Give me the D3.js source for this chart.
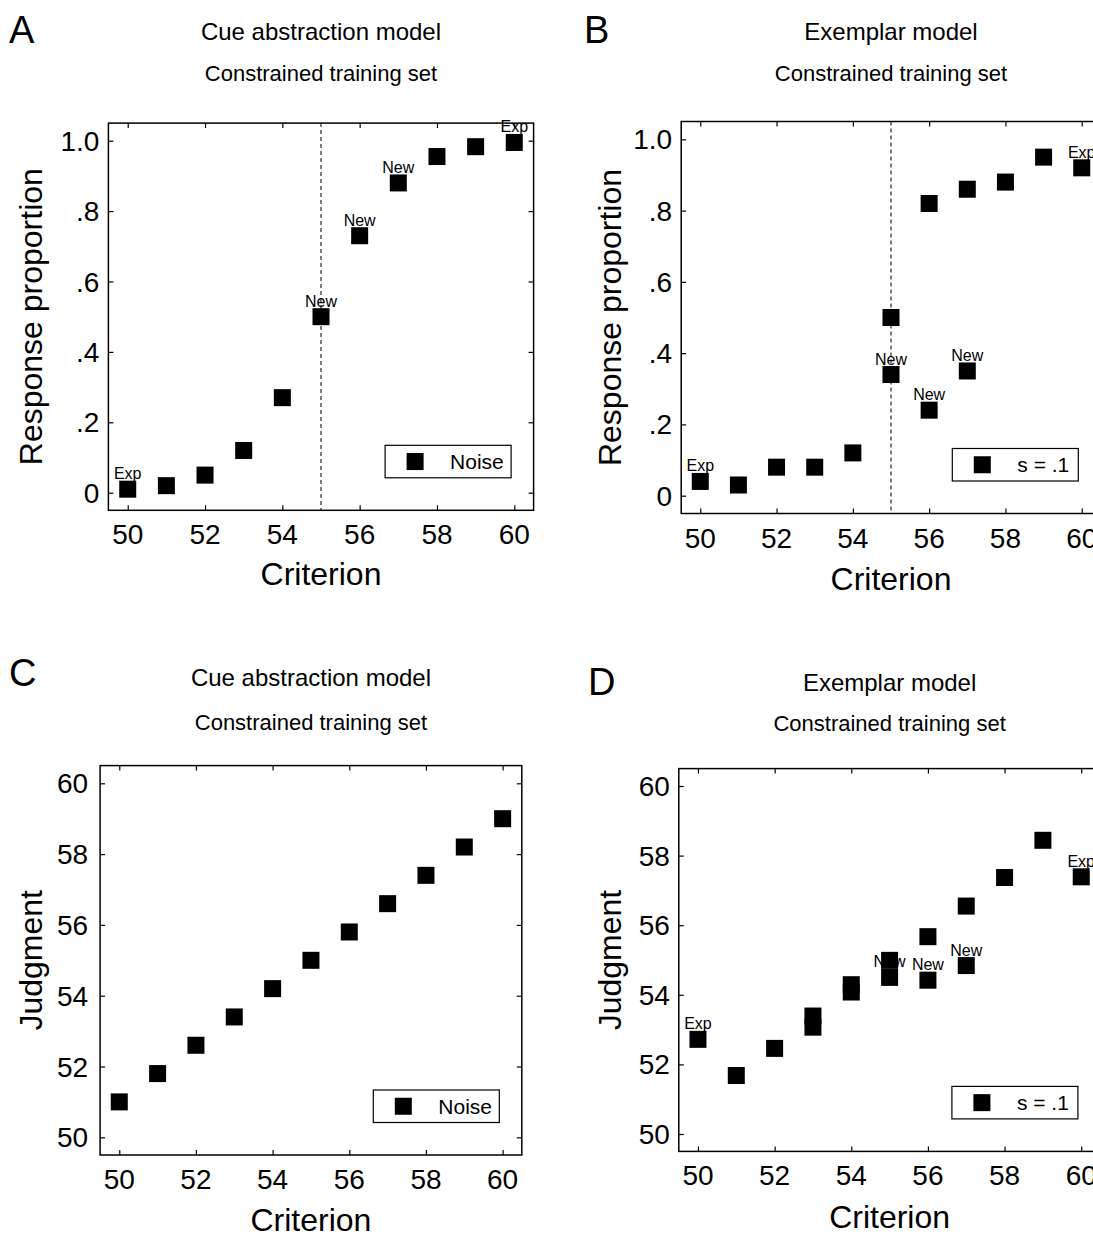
<!DOCTYPE html>
<html><head><meta charset="utf-8">
<script src="https://cdn.jsdelivr.net/npm/d3@7"></script>
<style>
body{margin:0;background:#fff}
svg{display:block;background:#fff}
text{font-family:"Liberation Sans",Arial,Helvetica,sans-serif;fill:#000}
</style>
</head><body>
<svg id="chart" width="1093" height="1234"></svg>
<script>
// ---------- data ----------
const xTicks = [50, 52, 54, 56, 58, 60];
const propTicks = [0, 0.2, 0.4, 0.6, 0.8, 1.0];
const propTickLabels = ["0", ".2", ".4", ".6", ".8", "1.0"];
const judgTicks = [50, 52, 54, 56, 58, 60];

// Panel A: cue abstraction model, response proportion
const cuePropX = [50, 51, 52, 53, 54, 55, 56, 57, 58, 59, 60];
const cuePropY = [0.01, 0.02, 0.05, 0.12, 0.27, 0.50, 0.73, 0.88, 0.955, 0.983, 0.995];
const cuePropLabels = ["Exp", "", "", "", "", "New", "New", "New", "", "", "Exp"];

// Panel B: exemplar model, response proportion
const exPropX = [50, 51, 52, 53, 54, 55, 55, 56, 56, 57, 57, 58, 59, 60];
const exPropY = [0.04, 0.03, 0.08, 0.08, 0.12, 0.50, 0.34, 0.82, 0.24, 0.86, 0.35, 0.88, 0.95, 0.92];
const exPropLabels = ["Exp", "", "", "", "", "", "New", "", "New", "", "New", "", "", "Exp"];

// Panel C: cue abstraction model, judgment
const cueJudgX = [50, 51, 52, 53, 54, 55, 56, 57, 58, 59, 60];
const cueJudgY = [51.0, 51.8, 52.6, 53.4, 54.2, 55.0, 55.8, 56.6, 57.4, 58.2, 59.0];
const cueJudgLabels = ["", "", "", "", "", "", "", "", "", "", ""];

// Panel D: exemplar model, judgment
const exJudgX = [50, 51, 52, 53, 53, 54, 54, 55, 55, 56, 56, 57, 57, 58, 59, 60];
const exJudgY = [52.72, 51.68, 52.46, 53.39, 53.07, 54.29, 54.08, 54.99, 54.50, 55.67, 54.42, 56.55, 54.84, 57.37, 58.44, 57.39];
const exJudgLabels = ["Exp", "", "", "", "", "", "", "", "New", "", "New", "", "New", "", "", "Exp"];

// ---------- layout ----------
const panels = [
  {letter:"A", title:"Cue abstraction model", sub:"Constrained training set",
   xs:cuePropX, ys:cuePropY, labels:cuePropLabels, yDomain:[-0.05,1.05], yTicks:propTicks, yTickLabels:propTickLabels,
   yTitle:"Response proportion", legend:"Noise", dashed:55,
   left:108.4, right:533.6, top:123.1, bottom:510.3,
   letterX:9, letterY:43, titleY:40, subY:81, yTitleX:42, xTickDy:34, xTitleDy:75, yTickPad:9},
  {letter:"B", title:"Exemplar model", sub:"Constrained training set",
   xs:exPropX, ys:exPropY, labels:exPropLabels, yDomain:[-0.05,1.05], yTicks:propTicks, yTickLabels:propTickLabels,
   yTitle:"Response proportion", legend:"s = .1", dashed:55,
   left:681.2, right:1100.8, top:121.5, bottom:513.5,
   letterX:584, letterY:43, titleY:40, subY:81, yTitleX:621, xTickDy:34, xTitleDy:76, yTickPad:9},
  {letter:"C", title:"Cue abstraction model", sub:"Constrained training set",
   xs:cueJudgX, ys:cueJudgY, labels:cueJudgLabels, yDomain:[49.5,60.5], yTicks:judgTicks, yTickLabels:judgTicks.map(String),
   yTitle:"Judgment", legend:"Noise", dashed:null,
   left:100.1, right:521.8, top:765.6, bottom:1155,
   letterX:9, letterY:686, titleY:686, subY:730, yTitleX:42, xTickDy:34, xTitleDy:76, yTickPad:12},
  {letter:"D", title:"Exemplar model", sub:"Constrained training set",
   xs:exJudgX, ys:exJudgY, labels:exJudgLabels, yDomain:[49.5,60.5], yTicks:judgTicks, yTickLabels:judgTicks.map(String),
   yTitle:"Judgment", legend:"s = .1", dashed:null,
   left:678.8, right:1100.4, top:768.6, bottom:1151.4,
   letterX:588, letterY:695, titleY:691, subY:731, yTitleX:621, xTickDy:34, xTitleDy:77, yTickPad:9}
];

const svg = d3.select("#chart");
const M = 17; // marker size

panels.forEach(p => {
  const x = d3.scaleLinear().domain([49.5, 60.5]).range([p.left, p.right]);
  const y = d3.scaleLinear().domain(p.yDomain).range([p.bottom, p.top]);
  const g = svg.append("g");
  const cx = (p.left + p.right) / 2;
  const cy = (p.top + p.bottom) / 2;

  // letter, titles
  g.append("text").attr("x", p.letterX).attr("y", p.letterY).attr("font-size", 38).text(p.letter);
  g.append("text").attr("x", cx).attr("y", p.titleY).attr("text-anchor", "middle").attr("font-size", 24).text(p.title);
  g.append("text").attr("x", cx).attr("y", p.subY).attr("text-anchor", "middle").attr("font-size", 22).text(p.sub);

  // axes with inward ticks on all sides
  const axB = d3.axisBottom(x).tickValues(xTicks).tickSize(-5).tickFormat("");
  const axT = d3.axisTop(x).tickValues(xTicks).tickSize(-5).tickFormat("");
  const axL = d3.axisLeft(y).tickValues(p.yTicks).tickSize(-5).tickFormat("");
  const axR = d3.axisRight(y).tickValues(p.yTicks).tickSize(-5).tickFormat("");
  [[axB, `translate(0,${p.bottom})`], [axT, `translate(0,${p.top})`],
   [axL, `translate(${p.left},0)`], [axR, `translate(${p.right},0)`]].forEach(([ax, tr]) => {
    const a = g.append("g").attr("transform", tr).call(ax);
    a.select(".domain").remove();
    a.selectAll("line").attr("stroke", "#000").attr("stroke-width", 1.2);
  });

  // tick labels
  g.selectAll(null).data(xTicks).enter().append("text")
    .attr("x", d => x(d)).attr("y", p.bottom + p.xTickDy)
    .attr("text-anchor", "middle").attr("font-size", 28).text(d => d);
  g.selectAll(null).data(p.yTicks).enter().append("text")
    .attr("x", p.left - p.yTickPad).attr("y", d => y(d)).attr("dy", "0.36em")
    .attr("text-anchor", "end").attr("font-size", 28).text((d, i) => p.yTickLabels[i]);

  // axis titles
  g.append("text").attr("x", cx).attr("y", p.bottom + p.xTitleDy)
    .attr("text-anchor", "middle").attr("font-size", 32).text("Criterion");
  g.append("text").attr("transform", `translate(${p.yTitleX},${cy}) rotate(-90)`)
    .attr("text-anchor", "middle").attr("font-size", 32).text(p.yTitle);

  // frame
  g.append("rect").attr("x", p.left).attr("y", p.top)
    .attr("width", p.right - p.left).attr("height", p.bottom - p.top)
    .attr("fill", "none").attr("stroke", "#000").attr("stroke-width", 1.5);

  // dashed reference line
  if (p.dashed !== null) {
    g.append("line").attr("x1", x(p.dashed)).attr("x2", x(p.dashed))
      .attr("y1", p.top).attr("y2", p.bottom)
      .attr("stroke", "#111").attr("stroke-width", 1.1).attr("stroke-dasharray", "4,3");
  }

  const pts = p.xs.map((v, i) => ({x: v, y: p.ys[i], label: p.labels[i]}));

  // point labels (drawn before markers)
  g.selectAll(null).data(pts.filter(d => d.label)).enter().append("text")
    .attr("x", d => x(d.x)).attr("y", d => y(d.y) - 10)
    .attr("text-anchor", "middle").attr("font-size", 16).text(d => d.label);

  // markers
  g.selectAll(null).data(pts).enter().append("rect")
    .attr("x", d => x(d.x) - M / 2).attr("y", d => y(d.y) - M / 2)
    .attr("width", M).attr("height", M).attr("fill", "#000");

  // legend
  const lw = 126, lh = 32.5;
  const lx = p.right - 22.5 - lw, ly = p.bottom - 32.5 - lh;
  g.append("rect").attr("x", lx).attr("y", ly).attr("width", lw).attr("height", lh)
    .attr("fill", "#fff").attr("stroke", "#000").attr("stroke-width", 1.2);
  g.append("rect").attr("x", lx + 30 - M / 2).attr("y", ly + lh / 2 - M / 2)
    .attr("width", M).attr("height", M).attr("fill", "#000");
  g.append("text").attr("x", lx + 65).attr("y", ly + lh / 2).attr("dy", "0.36em")
    .attr("font-size", 21).text(p.legend);
});
</script>
</body></html>
